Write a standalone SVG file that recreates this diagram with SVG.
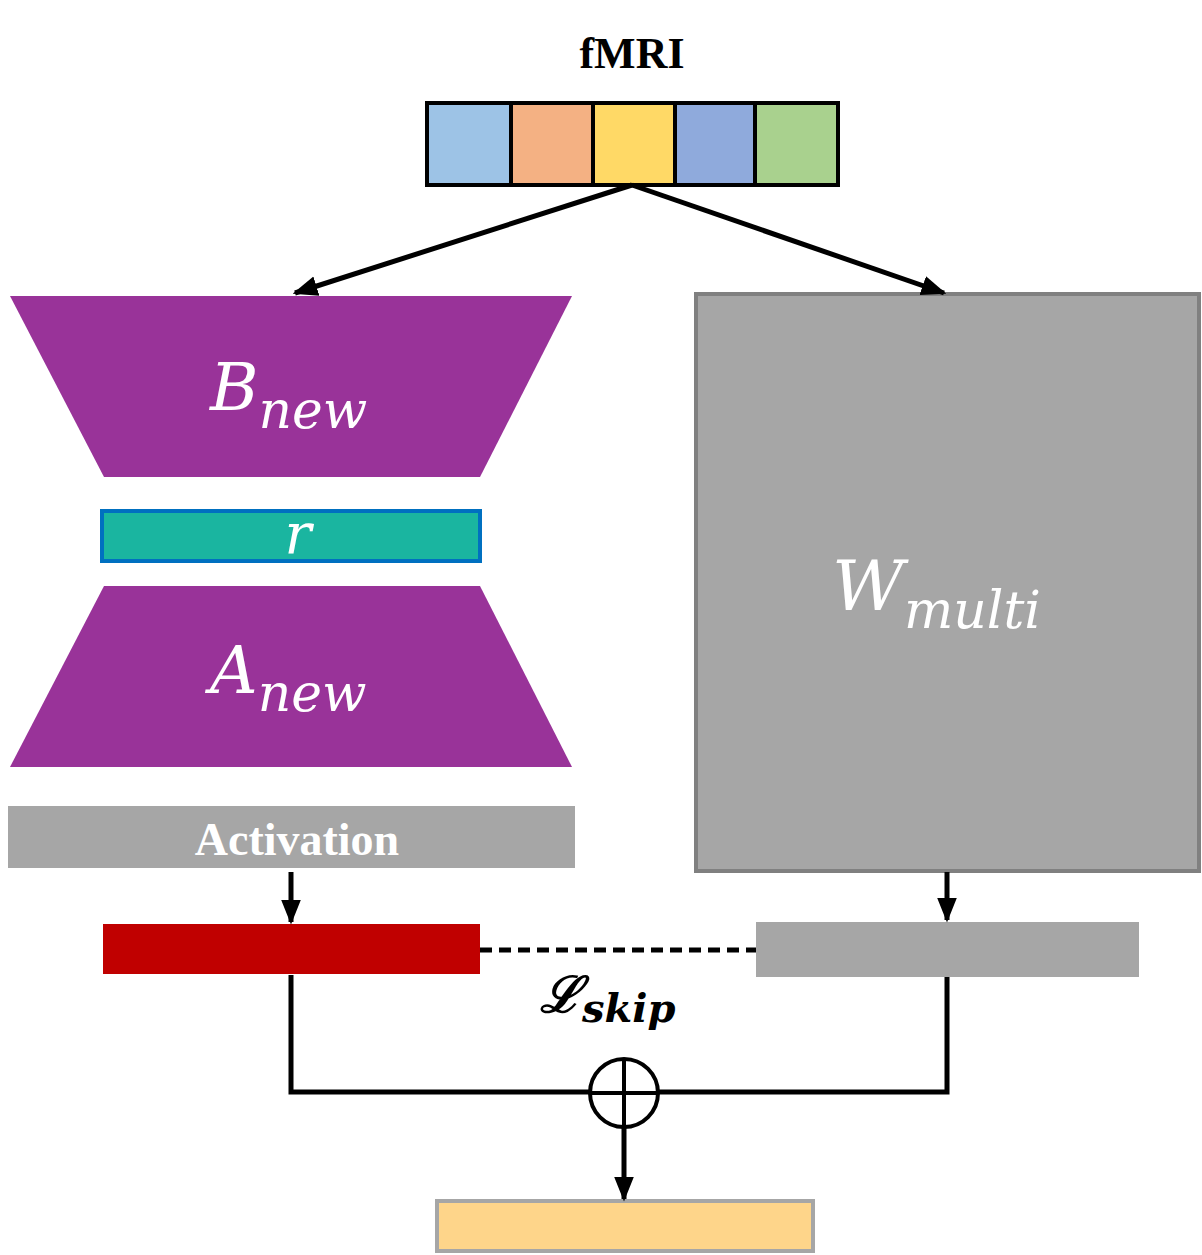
<svg xmlns="http://www.w3.org/2000/svg" width="1202" height="1255" viewBox="0 0 1202 1255">
<style>
.ln{stroke:#000;stroke-width:5;fill:none}
.m{font-family:"DejaVu Serif","Liberation Serif",serif;font-style:italic;fill:#fff}
</style>
<defs><marker id="ah" viewBox="0 0 10 10" refX="9" refY="5" markerWidth="5" markerHeight="5" orient="auto" markerUnits="strokeWidth"><path d="M0,1 L10,5 L0,9 z" fill="#000"/></marker></defs>
<rect width="1202" height="1255" fill="#fff"/>
<g id="fmri">
<text x="632" y="68" text-anchor="middle" font-family="Liberation Serif,serif" font-weight="bold" font-size="44">fMRI</text>
<rect x="429" y="105" width="82" height="78" fill="#9dc3e6"/>
<rect x="511" y="105" width="82" height="78" fill="#f4b183"/>
<rect x="593" y="105" width="82" height="78" fill="#ffd966"/>
<rect x="675" y="105" width="80" height="78" fill="#8faadc"/>
<rect x="755" y="105" width="81" height="78" fill="#a9d18e"/>
<g stroke="#000" stroke-width="4" fill="none"><rect x="427" y="103" width="411" height="82"/><path d="M511,103V185M593,103V185M675,103V185M755,103V185"/></g>
</g>
<g id="bnew"><path d="M10,296H572L480,477H104Z" fill="#993399"/>
<text x="210" y="410" class="m" font-size="66">B<tspan font-size="52" dy="18">new</tspan></text></g>
<g id="r"><rect x="102" y="511" width="378" height="50" fill="#1ab5a0" stroke="#0070c0" stroke-width="4"/>
<text x="298" y="553" class="m" font-size="56" text-anchor="middle">r</text></g>
<g id="anew"><path d="M104,586H480L572,767H10Z" fill="#993399"/>
<text x="210" y="693" class="m" font-size="66">A<tspan font-size="52" dy="18">new</tspan></text></g>
<g id="act"><rect x="8" y="806" width="567" height="62" fill="#a6a6a6"/>
<text x="297" y="855" text-anchor="middle" font-family="Liberation Serif,serif" font-weight="bold" font-size="46" fill="#fff">Activation</text></g>
<g id="wmulti"><rect x="696" y="294" width="503" height="577" fill="#a6a6a6" stroke="#808080" stroke-width="4"/>
<text x="832" y="610" class="m" font-size="70">W<tspan font-size="52" dy="18">multi</tspan></text></g>
<g id="red"><rect x="103" y="924" width="377" height="50" fill="#c00000"/></g>
<g id="grayout"><rect x="756" y="922" width="383" height="55" fill="#a6a6a6"/></g>
<g id="out"><rect x="437" y="1201" width="376" height="50" fill="#fed58a" stroke="#a6a6a6" stroke-width="4"/></g>
<g id="plus"><circle cx="624" cy="1093" r="34" fill="none" stroke="#000" stroke-width="4"/><path d="M624,1059V1127M590,1093H658" stroke="#000" stroke-width="4"/></g>
<text x="540" y="1012" font-family="DejaVu Serif,serif" font-style="italic" font-weight="bold" font-size="50">ℒ<tspan font-size="40" dy="10">skip</tspan></text>
<g id="connectors">
<path class="ln" d="M632,185L295,293" marker-end="url(#ah)"/>
<path class="ln" d="M632,185L944,293" marker-end="url(#ah)"/>
<path class="ln" d="M291,872V922" marker-end="url(#ah)"/>
<path class="ln" d="M947,872V920" marker-end="url(#ah)"/>
<path d="M480,950H756" stroke="#000" stroke-width="5" stroke-dasharray="12,7"/>
<path class="ln" d="M291,975V1092H590M658,1092H947V977"/>
<path class="ln" d="M624,1127V1199" marker-end="url(#ah)"/>
</g>
</svg>
